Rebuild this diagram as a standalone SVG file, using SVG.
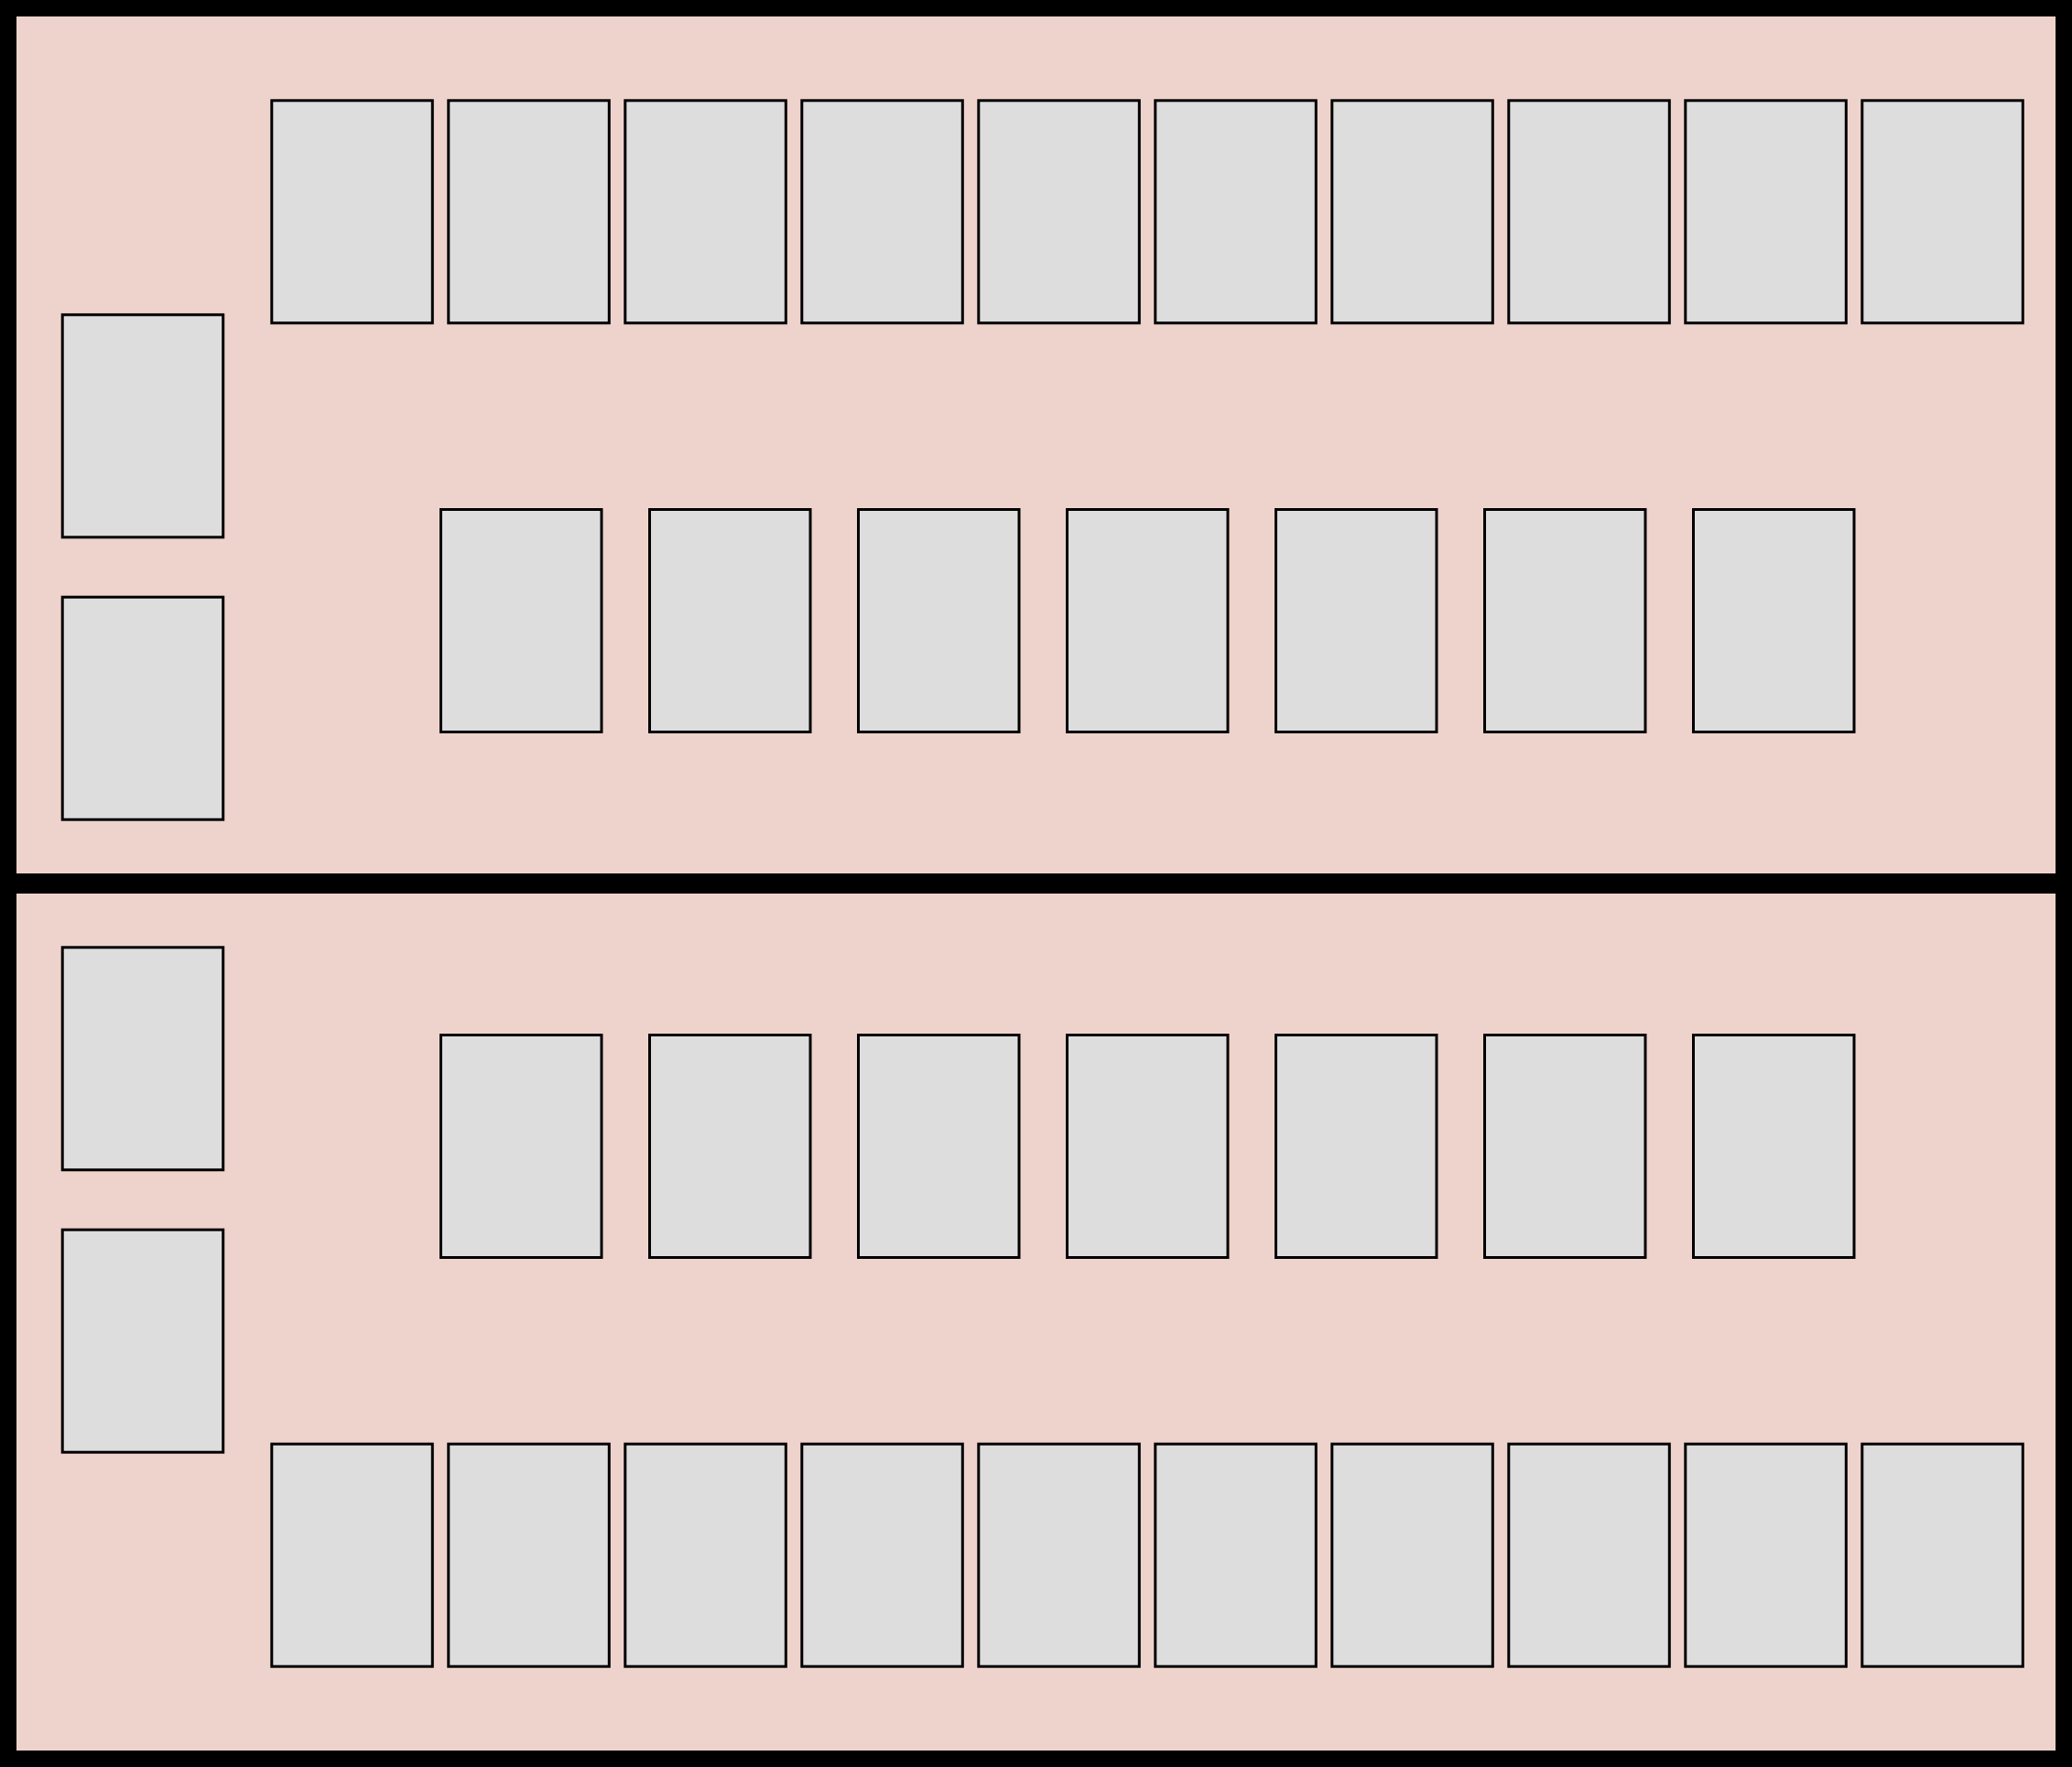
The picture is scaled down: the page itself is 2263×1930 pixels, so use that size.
<svg xmlns="http://www.w3.org/2000/svg" width="2263" height="1930" viewBox="0 0 2263 1930">
<style>
.panel{fill:#eed3cc;stroke:none}
.box{fill:#dddddd;stroke:#000;stroke-width:3}
</style>
<defs>
<rect id="b" class="box" x="0" y="0" width="175.5" height="243"/>
</defs>
<rect x="0" y="0" width="2263" height="1930" fill="#000"/>
<g id="panel-top"><rect class="panel" x="18" y="18" width="2227" height="936"/></g>
<g id="panel-bottom"><rect class="panel" x="18" y="976" width="2227" height="936"/></g>
<g id="connectors"></g>
<g id="top-left-1"><use href="#b" x="68.2" y="343.8"/></g>
<g id="top-left-2"><use href="#b" x="68.2" y="652.2"/></g>
<g id="top-row-1"><use href="#b" x="296.8" y="109.8"/></g>
<g id="top-row-2"><use href="#b" x="489.8" y="109.8"/></g>
<g id="top-row-3"><use href="#b" x="682.8" y="109.8"/></g>
<g id="top-row-4"><use href="#b" x="875.8" y="109.8"/></g>
<g id="top-row-5"><use href="#b" x="1068.8" y="109.8"/></g>
<g id="top-row-6"><use href="#b" x="1261.8" y="109.8"/></g>
<g id="top-row-7"><use href="#b" x="1454.8" y="109.8"/></g>
<g id="top-row-8"><use href="#b" x="1647.8" y="109.8"/></g>
<g id="top-row-9"><use href="#b" x="1840.8" y="109.8"/></g>
<g id="top-row-10"><use href="#b" x="2033.8" y="109.8"/></g>
<g id="top-mid-1"><use href="#b" x="481.5" y="556.5"/></g>
<g id="top-mid-2"><use href="#b" x="709.5" y="556.5"/></g>
<g id="top-mid-3"><use href="#b" x="937.5" y="556.5"/></g>
<g id="top-mid-4"><use href="#b" x="1165.5" y="556.5"/></g>
<g id="top-mid-5"><use href="#b" x="1393.5" y="556.5"/></g>
<g id="top-mid-6"><use href="#b" x="1621.5" y="556.5"/></g>
<g id="top-mid-7"><use href="#b" x="1849.5" y="556.5"/></g>
<g id="bottom-left-1"><use href="#b" x="68.2" y="1034.8"/></g>
<g id="bottom-left-2"><use href="#b" x="68.2" y="1343.2"/></g>
<g id="bottom-mid-1"><use href="#b" x="481.5" y="1130.5"/></g>
<g id="bottom-mid-2"><use href="#b" x="709.5" y="1130.5"/></g>
<g id="bottom-mid-3"><use href="#b" x="937.5" y="1130.5"/></g>
<g id="bottom-mid-4"><use href="#b" x="1165.5" y="1130.5"/></g>
<g id="bottom-mid-5"><use href="#b" x="1393.5" y="1130.5"/></g>
<g id="bottom-mid-6"><use href="#b" x="1621.5" y="1130.5"/></g>
<g id="bottom-mid-7"><use href="#b" x="1849.5" y="1130.5"/></g>
<g id="bottom-row-1"><use href="#b" x="296.8" y="1577.2"/></g>
<g id="bottom-row-2"><use href="#b" x="489.8" y="1577.2"/></g>
<g id="bottom-row-3"><use href="#b" x="682.8" y="1577.2"/></g>
<g id="bottom-row-4"><use href="#b" x="875.8" y="1577.2"/></g>
<g id="bottom-row-5"><use href="#b" x="1068.8" y="1577.2"/></g>
<g id="bottom-row-6"><use href="#b" x="1261.8" y="1577.2"/></g>
<g id="bottom-row-7"><use href="#b" x="1454.8" y="1577.2"/></g>
<g id="bottom-row-8"><use href="#b" x="1647.8" y="1577.2"/></g>
<g id="bottom-row-9"><use href="#b" x="1840.8" y="1577.2"/></g>
<g id="bottom-row-10"><use href="#b" x="2033.8" y="1577.2"/></g>
</svg>
